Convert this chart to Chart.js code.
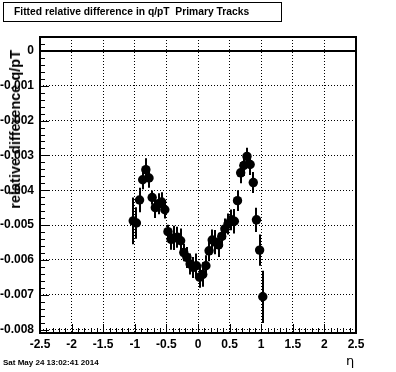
<!DOCTYPE html>
<html>
<head>
<meta charset="utf-8">
<script src="https://cdn.jsdelivr.net/npm/chart.js@4.4.1/dist/chart.umd.min.js"></script>
<style>
  body { margin: 0; background: #fff; }
  #wrap { position: relative; width: 396px; height: 372px; overflow: hidden; }
  #title-box {
    position: absolute; left: 3px; top: 2px; width: 279px; height: 20px;
    border: 1px solid #000; box-sizing: border-box;
    font: bold 10.3px "Liberation Sans", Arial, sans-serif;
    line-height: 18px; padding-left: 10px; white-space: nowrap; color: #000;
  }
  #y-title {
    position: absolute; left: 7px; top: 50px;
    transform-origin: 0 0; transform: rotate(-90deg) translateX(-100%);
    font: bold 14.5px "Liberation Sans", Arial, sans-serif;
    line-height: 16px; white-space: nowrap; color: #000;
  }
  #x-title {
    position: absolute; left: 346px; top: 353px;
    font: 13px "DejaVu Sans", sans-serif; color: #000;
  }
  #date {
    position: absolute; left: 3px; top: 358px;
    font: bold 8px "Liberation Sans", Arial, sans-serif; color: #000; white-space: nowrap;
  }
</style>
</head>
<body>
<div id="wrap">
  <canvas id="chart" width="396" height="372"></canvas>
  <div id="title-box">Fitted relative difference in q/pT&nbsp; Primary Tracks</div>
  <div id="y-title">relative difference q/pT</div>
  <div id="x-title">η</div>
  <div id="date">Sat May 24 13:02:41 2014</div>
</div>
<script>
// ---- data ----
const etaBins = [
  -1.025, -0.975, -0.925, -0.875, -0.825, -0.775, -0.725, -0.675, -0.625, -0.575,
  -0.525, -0.475, -0.425, -0.375, -0.325, -0.275, -0.225, -0.175, -0.125, -0.075,
  -0.025, 0.025, 0.075, 0.125, 0.175, 0.225, 0.275, 0.325, 0.375, 0.425,
  0.475, 0.525, 0.575, 0.625, 0.675, 0.725, 0.775, 0.825, 0.875, 0.925,
  0.975, 1.025
];
// relative difference, units of 1e-3
const relDiff = [
  -4.88, -4.94, -4.28, -3.70, -3.41, -3.65, -4.21, -4.50, -4.39, -4.34,
  -4.56, -5.19, -5.41, -5.37, -5.35, -5.45, -5.79, -5.93, -6.12, -6.22,
  -6.17, -6.50, -6.42, -6.17, -5.74, -5.43, -5.49, -5.57, -5.33, -5.11,
  -4.97, -4.85, -4.89, -4.30, -3.50, -3.29, -3.03, -3.26, -3.78, -4.85,
  -5.72, -7.06
];
const relDiffErr = [
  0.67, 0.45, 0.35, 0.27, 0.33, 0.28, 0.20, 0.30, 0.30, 0.28,
  0.25, 0.20, 0.30, 0.35, 0.30, 0.35, 0.25, 0.30, 0.30, 0.30,
  0.35, 0.30, 0.35, 0.30, 0.30, 0.30, 0.35, 0.35, 0.30, 0.30,
  0.30, 0.30, 0.35, 0.30, 0.30, 0.30, 0.25, 0.30, 0.30, 0.35,
  0.45, 0.75
];
const xTickStep = 0.5;
const yTickStep = 0.001;

const points = etaBins.map((x, i) => ({ x, y: relDiff[i] * 1e-3, err: relDiffErr[i] * 1e-3 }));

const tickFont = { family: 'Liberation Sans', size: 12, weight: 'bold' };

// error bars drawn under the markers
const errorBars = {
  id: 'errorBars',
  beforeDatasetsDraw(chart) {
    const { ctx, chartArea, scales } = chart;
    ctx.save();
    ctx.beginPath();
    ctx.rect(chartArea.left, chartArea.top, chartArea.right - chartArea.left, chartArea.bottom - chartArea.top);
    ctx.clip();
    ctx.strokeStyle = '#000';
    ctx.lineWidth = 2;
    points.forEach(p => {
      const px = Math.round(scales.x.getPixelForValue(p.x));
      ctx.beginPath();
      ctx.moveTo(px, scales.y.getPixelForValue(p.y + p.err));
      ctx.lineTo(px, scales.y.getPixelForValue(p.y - p.err));
      ctx.stroke();
    });
    ctx.restore();
  }
};

// ROOT style frame with inward ticks
const frame = {
  id: 'frame',
  afterDraw(chart) {
    const { ctx, chartArea: a, scales } = chart;
    ctx.save();
    ctx.strokeStyle = '#000';
    ctx.lineWidth = 1;
    ctx.beginPath();
    for (let k = -40; k <= 2; k++) {
      const v = k * 0.0002;
      const py = Math.round(scales.y.getPixelForValue(v)) + 0.5;
      if (py < a.top || py > a.bottom) continue;
      const len = k % 5 === 0 ? 9 : 5;
      ctx.moveTo(a.left, py);
      ctx.lineTo(a.left + len, py);
    }
    for (let k = -25; k <= 25; k++) {
      const px = Math.round(scales.x.getPixelForValue(k * 0.1)) + 0.5;
      const len = k % 5 === 0 ? 9 : 5;
      ctx.moveTo(px, a.bottom);
      ctx.lineTo(px, a.bottom - len);
    }
    ctx.stroke();
    ctx.lineWidth = 2;
    ctx.strokeRect(Math.round(a.left), Math.round(a.top),
      Math.round(a.right - a.left), Math.round(a.bottom - a.top));
    ctx.restore();
  }
};

new Chart(document.getElementById('chart'), {
  type: 'scatter',
  data: {
    datasets: [
      {
        data: points,
        backgroundColor: '#000',
        borderWidth: 0,
        pointRadius: 4.7,
        pointHoverRadius: 4.7
      },
      {
        type: 'line',
        data: [{ x: -2.5, y: 0 }, { x: 2.5, y: 0 }],
        borderColor: '#000',
        borderWidth: 2,
        pointRadius: 0
      }
    ]
  },
  options: {
    responsive: false,
    animation: false,
    events: [],
    layout: { padding: { top: 37, right: 40, left: 0, bottom: 0 } },
    plugins: { legend: { display: false }, tooltip: { enabled: false } },
    scales: {
      x: {
        type: 'linear',
        min: -2.5,
        max: 2.5,
        afterFit: s => { s.height = 39; },
        grid: { color: '#000', lineWidth: 1, drawTicks: false },
        border: { display: false, dash: [1, 2] },
        ticks: {
          stepSize: xTickStep,
          includeBounds: false,
          padding: 4,
          color: '#000',
          font: tickFont,
          maxRotation: 0,
          callback: v => String(Math.round(v * 10) / 10)
        }
      },
      y: {
        min: -0.0081,
        max: 0.0004,
        afterFit: s => { s.width = 40; },
        grid: { color: '#000', lineWidth: 1, drawTicks: false },
        border: { display: false, dash: [1, 2] },
        ticks: {
          stepSize: yTickStep,
          includeBounds: false,
          padding: 6,
          color: '#000',
          font: tickFont,
          callback: v => Math.abs(v) < 1e-9 ? '0' : v.toFixed(3)
        }
      }
    }
  },
  plugins: [errorBars, frame]
});
</script>
</body>
</html>
